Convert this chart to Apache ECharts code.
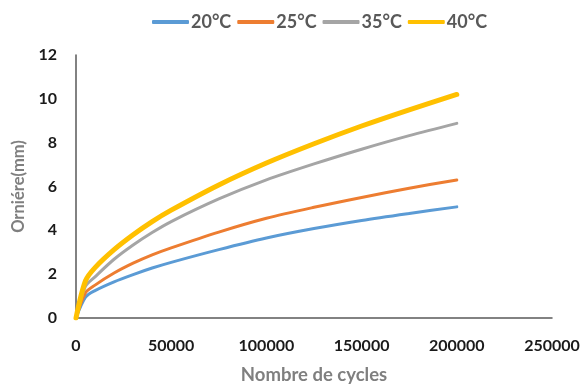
<!DOCTYPE html>
<html>
<head>
<meta charset="utf-8">
<script src="https://cdn.jsdelivr.net/npm/echarts@6/dist/echarts.min.js"></script>
<style>html,body{margin:0;padding:0;background:#fff}#c{width:585px;height:390px}</style>
</head>
<body>
<div id="c"></div>
<script>
var cycles = [0, 5000, 10000, 20000, 30000, 40000, 50000, 75000, 100000, 125000, 150000, 175000, 200000];
var seriesNames = ['20°C', '25°C', '35°C', '40°C'];
var t20 = [0, 0.95, 1.25, 1.65, 1.98, 2.28, 2.54, 3.12, 3.65, 4.08, 4.45, 4.77, 5.07];
var t25 = [0, 1.15, 1.5, 2.05, 2.5, 2.88, 3.2, 3.92, 4.55, 5.05, 5.5, 5.92, 6.3];
var t35 = [0, 1.45, 1.88, 2.68, 3.33, 3.9, 4.4, 5.43, 6.3, 7.03, 7.7, 8.32, 8.88];
var t40 = [0, 1.7, 2.3, 3.12, 3.8, 4.4, 4.92, 6.07, 7.07, 7.95, 8.76, 9.5, 10.2];
var xTicks = [0, 50000, 100000, 150000, 200000, 250000];
var yTicks = [0, 2, 4, 6, 8, 10, 12];

function pairs(vals){ return cycles.map(function(c,i){ return [c, vals[i]]; }); }
var colors = ['#5B9BD5', '#ED7D31', '#A5A5A5', '#FFC000'];
var widths = [3, 3, 3, 5];
var allData = [t20, t25, t35, t40];

var chart = echarts.init(document.getElementById('c'));
chart.setOption({
  animation: false,
  textStyle: {fontFamily: 'Lato'},
  legend: {
    top: 8, left: 147,
    icon: 'roundRect', itemWidth: 37, itemHeight: 4, itemGap: 6,
    textStyle: {fontFamily: 'Lato', fontWeight: 'bold', fontSize: 18, color: '#595959', padding: [0,0,0,-3]},
    data: seriesNames
  },
  grid: {left: 76, right: 33, top: 55, bottom: 70, containLabel: false},
  xAxis: {
    type: 'value', min: xTicks[0], max: xTicks[xTicks.length-1], interval: 50000,
    name: 'Nombre de cycles', nameLocation: 'middle', nameGap: 48,
    nameTextStyle: {fontFamily: 'Lato', fontWeight: 'bold', fontSize: 18.5, color: '#7f7f7f'},
    axisLine: {show: true, lineStyle: {color: '#595959', width: 1.5}},
    axisTick: {show: false}, splitLine: {show: false},
    axisLabel: {margin: 20, fontFamily: 'Lato', fontWeight: 'bold', fontSize: 16, color: '#1a1a1a',
      formatter: function(v){ return String(v); }}
  },
  yAxis: {
    type: 'value', min: yTicks[0], max: yTicks[yTicks.length-1], interval: 2,
    name: 'Orniére(mm)', nameLocation: 'middle', nameGap: 46,
    nameTextStyle: {fontFamily: 'Lato', fontWeight: 'bold', fontSize: 16.5, color: '#7f7f7f'},
    axisLine: {show: true, lineStyle: {color: '#595959', width: 1.5}},
    axisTick: {show: false}, splitLine: {show: false},
    axisLabel: {margin: 19, fontFamily: 'Lato', fontWeight: 'bold', fontSize: 16, color: '#1a1a1a'}
  },
  series: seriesNames.map(function(n, i){
    return {
      name: n, type: 'line', data: pairs(allData[i]), smooth: 0.3,
      symbol: 'none', z: 2 + i,
      color: colors[i],
      lineStyle: {color: colors[i], width: widths[i], cap: 'round'}
    };
  })
});
</script>
</body>
</html>
